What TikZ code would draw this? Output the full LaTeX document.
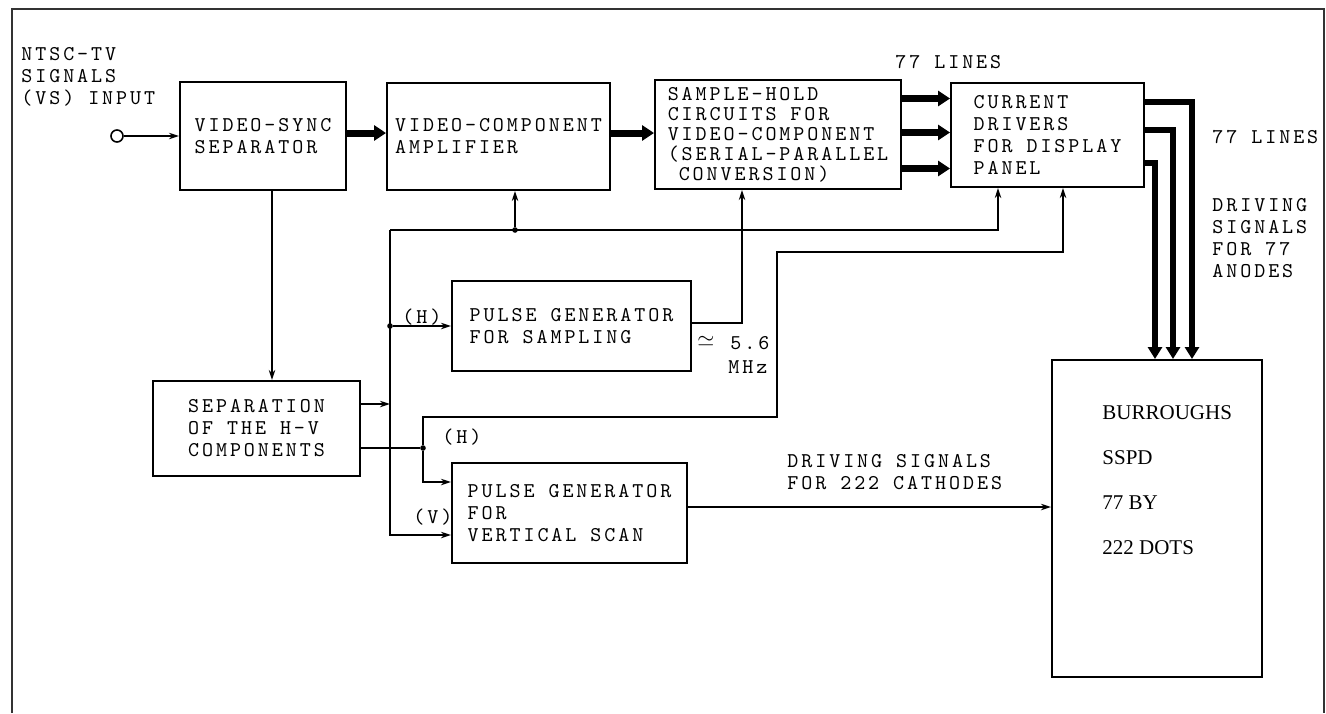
\documentclass[tikz,border=0pt]{standalone}
\usepackage{fontspec}
\usepackage{amssymb}
\newfontfamily\maquina[LetterSpace=14]{Latin Modern Mono}
\newfontfamily\rotulo{Liberation Serif}
\usetikzlibrary{positioning, arrows.meta, calc}

\begin{document}
\begin{tikzpicture}[x=0.5pt, y=-0.5pt,
		font=\maquina\fontsize{10.5}{11}\selectfont,
		block/.style={draw, line width=1pt, inner sep=0pt, align=left},
		sig/.style={line width=0.8pt, -{Stealth[length=5pt, width=3.2pt]}},
		wide/.style={line width=3.5pt, -{Triangle[length=6pt, width=7.5pt]}},
		bundle/.style={line width=3pt, -{Triangle[length=6pt, width=7pt]}},
		tag/.style={inner sep=0pt, anchor=west},
		dot/.style={circle, fill, inner sep=0pt, minimum size=2.8pt}]
	\useasboundingbox (0,0) rectangle (1326,713);
	\draw[line width=0.7pt, black!80] (12,713) -- (12,9) -- (1324,9) -- (1324,713);

	\node[block, minimum width=83pt, minimum height=54pt] (sync) at (263,136) {VIDEO-SYNC\\SEPARATOR};
	\node[block, minimum width=111.5pt, minimum height=53.5pt] (amp) at (498.5,136.5) {VIDEO-COMPONENT\\AMPLIFIER};
	\node[block, minimum width=123pt, minimum height=54.5pt, font=\maquina\fontsize{10.5}{10}\selectfont] (hold) at (778,134.5)
		{SAMPLE-HOLD\\CIRCUITS FOR\\VIDEO-COMPONENT\\(SERIAL-PARALLEL\\\phantom{(}CONVERSION)};
	\node[block, minimum width=96.5pt, minimum height=52pt] (drv) at (1047.5,135) {CURRENT\\DRIVERS\\FOR DISPLAY\\PANEL};
	\node[block, minimum width=103.5pt, minimum height=47.5pt] (sep) at (256.5,428.5) {SEPARATION\\OF THE H-V\\COMPONENTS};
	\node[block, minimum width=119.5pt, minimum height=45pt] (pgs) at (571.5,326) {PULSE GENERATOR\\FOR SAMPLING};
	\node[block, minimum width=117.5pt, minimum height=50pt] (pgv) at (569.5,513) {PULSE GENERATOR\\FOR\\VERTICAL SCAN};
	\node[block, minimum width=105pt, minimum height=158.5pt] (panel) at (1157,518.5) {};
	\node[tag, anchor=north west, align=left, font=\rotulo\fontsize{10.5}{22.5}\selectfont] (paneltxt) at (1102,405)
		{BURROUGHS\\SSPD\\77 BY\\222 DOTS};

	\node[circle, draw, line width=0.8pt, minimum size=6pt, inner sep=0pt] (vin) at (117,136) {};
	\node[tag, anchor=north west, align=left] (ntsc) at (21,47) {NTSC-TV\\SIGNALS\\(VS) INPUT};
	\node[tag] (lines1) at (895,62) {77 LINES};
	\node[tag] (lines2) at (1212,137) {77 LINES};
	\node[tag, anchor=north west, align=left] (anodes) at (1212,198) {DRIVING\\SIGNALS\\FOR 77\\ANODES};
	\node[tag] (hsamp) at (402,317) {(H)};
	\node[tag] (hvert) at (442,437) {(H)};
	\node[tag] (vvert) at (413,517) {(V)};
	\node[tag] (approx) at (697,341) {$\simeq$};
	\node[tag] (freq) at (730,343) {5.6};
	\node[tag] (mhz) at (728,367) {MHz};
	\node[tag, anchor=north west, align=left] (cath) at (787,454) {DRIVING SIGNALS\\FOR 222 CATHODES};

	\draw[sig] (vin) -- (sync);
	\draw[wide] ($(sync.east)+(0,-3)$) coordinate (w1) -- (w1 -| amp.west);
	\draw[wide] ($(amp.east)+(0,-3.5)$) coordinate (w2) -- (w2 -| hold.west);
	\foreach \dy in {-36,-2,34}
		\draw[wide] ($(hold.east)+(0,\dy)$) coordinate (w3) -- (w3 -| drv.west);
	\foreach \dy/\dx in {-33/35, -5/16, 28/-2}
		\draw[bundle] ($(drv.east)+(0,\dy)$) -| ($(panel.north)+(\dx,0)$);

	\draw[sig] ($(sync.south)+(9,0)$) coordinate (s1) -- (s1 |- sep.north);
	\coordinate (bustop) at (390,230);
	\draw[sig] ($(sep.east)+(0,-24.5)$) coordinate (s2) -- (s2 -| bustop);
	\draw[sig] (bustop) -| ($(drv.south)+(-49.5,0)$);
	\draw[sig] (bustop) |- ($(pgv.west)+(0,22)$);
	\node[dot] (tapa) at (bustop |- pgs.west) {};
	\draw[sig] (tapa) -- (pgs.west);
	\node[dot] (tapb) at ($(amp.south |- bustop)+(16.5,0)$) {};
	\draw[sig] (tapb) -- (tapb |- amp.south);

	\node[dot] (tapc) at ($(sep.east)+(62,19.5)$) {};
	\draw[line width=0.8pt] ($(sep.east)+(0,19.5)$) -- (tapc);
	\draw[sig] (tapc) |- ($(pgv.west)+(0,-31)$);
	\coordinate (loop) at (777,252);
	\draw[sig] (tapc) -- ++(0,-31) -| (loop) -| ($(drv.south)+(15.5,0)$);

	\draw[sig] ($(pgs.east)+(0,-3)$) -| ($(hold.south)+(-36,0)$);
	\draw[sig] ($(pgv.east)+(0,-6)$) coordinate (c1) -- (c1 -| panel.west);
\end{tikzpicture}
\end{document}
